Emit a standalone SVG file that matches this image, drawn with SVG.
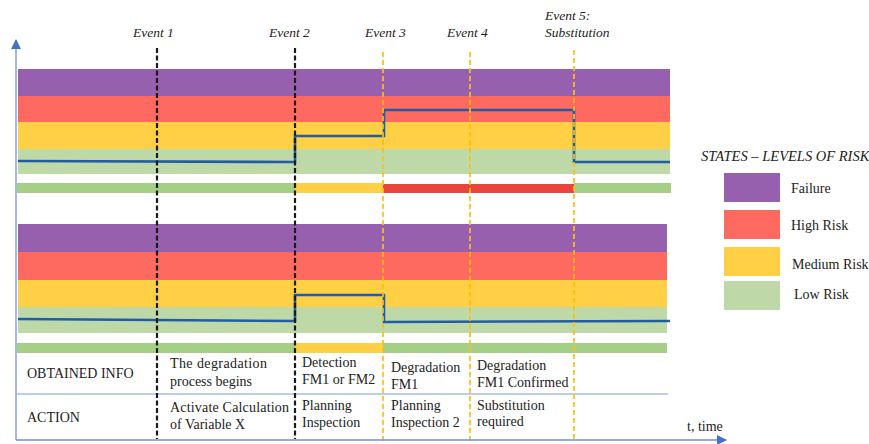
<svg xmlns="http://www.w3.org/2000/svg" width="869" height="444" viewBox="0 0 869 444">
<defs>
<marker id="arr" viewBox="0 0 10 10" refX="9" refY="5" markerWidth="10" markerHeight="10" markerUnits="userSpaceOnUse" orient="auto">
<path d="M0,0 L10,5 L0,10 Z" fill="#4472C4"/>
</marker>
<style>
.purple{fill:#9660AE}
.red{fill:#FF6A60}
.yellow{fill:#FFD045}
.lgreen{fill:#BFD8A7}
.bgreen{fill:#A6CF86}
.byellow{fill:#FFCF45}
.bred{fill:#E8453C}
.risk{fill:none;stroke:#1F5DA8;stroke-width:2.6;stroke-linejoin:miter}
.evk{stroke:#1a1a1a;stroke-width:2.2;stroke-dasharray:5 2.5;fill:none}
.evo{stroke:#FFC000;stroke-width:1.7;stroke-dasharray:5 3;fill:none}
.axis{stroke:#8EA9DB;stroke-width:1.6;fill:none}
.taxis{stroke:#6F8FD3;stroke-width:1.6;fill:none}
.tline{stroke:#A9BCE3;stroke-width:1.5;fill:none}
</style>
</defs>

<g id="upper-panel">
<rect class="purple" x="18" y="69" width="652" height="27"/>
<rect class="red" x="18" y="96" width="652" height="26"/>
<rect class="yellow" x="18" y="122" width="652" height="27"/>
<rect class="lgreen" x="18" y="149" width="652" height="25"/>
<rect class="bgreen" x="17" y="183" width="278" height="10"/>
<rect class="byellow" x="295" y="183" width="88" height="10"/>
<rect class="bred" x="383" y="184" width="191" height="9"/>
<rect class="bgreen" x="574" y="183" width="97" height="10"/>
<polyline class="risk" points="18,161 295,162 295,136 384,136 384,110 574,110 574,162 670,162"/>
</g>

<g id="lower-panel">
<rect class="purple" x="18" y="224" width="649" height="28"/>
<rect class="red" x="18" y="252" width="649" height="28"/>
<rect class="yellow" x="18" y="280" width="649" height="27"/>
<rect class="lgreen" x="18" y="307" width="649" height="26"/>
<rect class="bgreen" x="17" y="343" width="278" height="10"/>
<rect class="byellow" x="295" y="343" width="88" height="10"/>
<rect class="bgreen" x="383" y="343" width="284" height="10"/>
<polyline class="risk" points="18,319 295,321 295,295 384,295 384,322 670,321"/>
</g>

<g id="table" font-family="'Liberation Serif', 'DejaVu Serif', serif" font-size="14" fill="#222222">
<line class="tline" x1="16" y1="394" x2="668" y2="394"/>
<text x="27" y="378">OBTAINED INFO</text>
<text x="27" y="422">ACTION</text>
<text x="170" y="368" textLength="97" lengthAdjust="spacing">The degradation</text>
<text x="170" y="386">process begins</text>
<text x="170" y="412" textLength="119" lengthAdjust="spacing">Activate Calculation</text>
<text x="170" y="429">of Variable X</text>
<text x="302" y="367">Detection</text>
<text x="302" y="384">FM1 or FM2</text>
<text x="302" y="410">Planning</text>
<text x="302" y="427">Inspection</text>
<text x="391" y="372">Degradation</text>
<text x="391" y="389">FM1</text>
<text x="391" y="410">Planning</text>
<text x="391" y="427">Inspection 2</text>
<text x="477" y="370">Degradation</text>
<text x="477" y="387">FM1 Confirmed</text>
<text x="477" y="410">Substitution</text>
<text x="477" y="426">required</text>
<text x="687" y="431">t, time</text>
</g>

<g id="connectors">
<line class="evk" x1="157" y1="48" x2="157" y2="439"/>
<line class="evk" x1="295" y1="48" x2="295" y2="439"/>
<line class="evo" x1="383" y1="52" x2="383" y2="442"/>
<line class="evo" x1="470" y1="52" x2="470" y2="442"/>
<line class="evo" x1="574" y1="50" x2="574" y2="442"/>
<line class="axis" x1="16" y1="440" x2="16" y2="40" marker-end="url(#arr)"/>
<line class="taxis" x1="16" y1="440" x2="726" y2="440" marker-end="url(#arr)"/>
</g>

<g id="event-labels" font-family="'Liberation Serif', 'DejaVu Serif', serif" font-style="italic" font-size="13.5" fill="#222222">
<text x="133" y="37">Event 1</text>
<text x="269" y="37">Event 2</text>
<text x="365" y="37">Event 3</text>
<text x="447" y="37">Event 4</text>
<text x="545" y="20">Event 5:</text>
<text x="545" y="37">Substitution</text>
</g>

<g id="legend" font-family="'Liberation Serif', 'DejaVu Serif', serif" font-size="14" fill="#222222">
<text x="701" y="161" font-style="italic" font-size="14.5">STATES – LEVELS OF RISK</text>
<g id="legend-failure">
<rect class="purple" x="724" y="173" width="56" height="29"/>
<text x="791" y="193">Failure</text>
</g>
<g id="legend-high">
<rect class="red" x="724" y="210" width="56" height="29"/>
<text x="791" y="230">High Risk</text>
</g>
<g id="legend-medium">
<rect class="yellow" x="724" y="247" width="56" height="29"/>
<text x="792" y="269">Medium Risk</text>
</g>
<g id="legend-low">
<rect class="lgreen" x="724" y="281" width="56" height="29"/>
<text x="794" y="299">Low Risk</text>
</g>
</g>
</svg>
